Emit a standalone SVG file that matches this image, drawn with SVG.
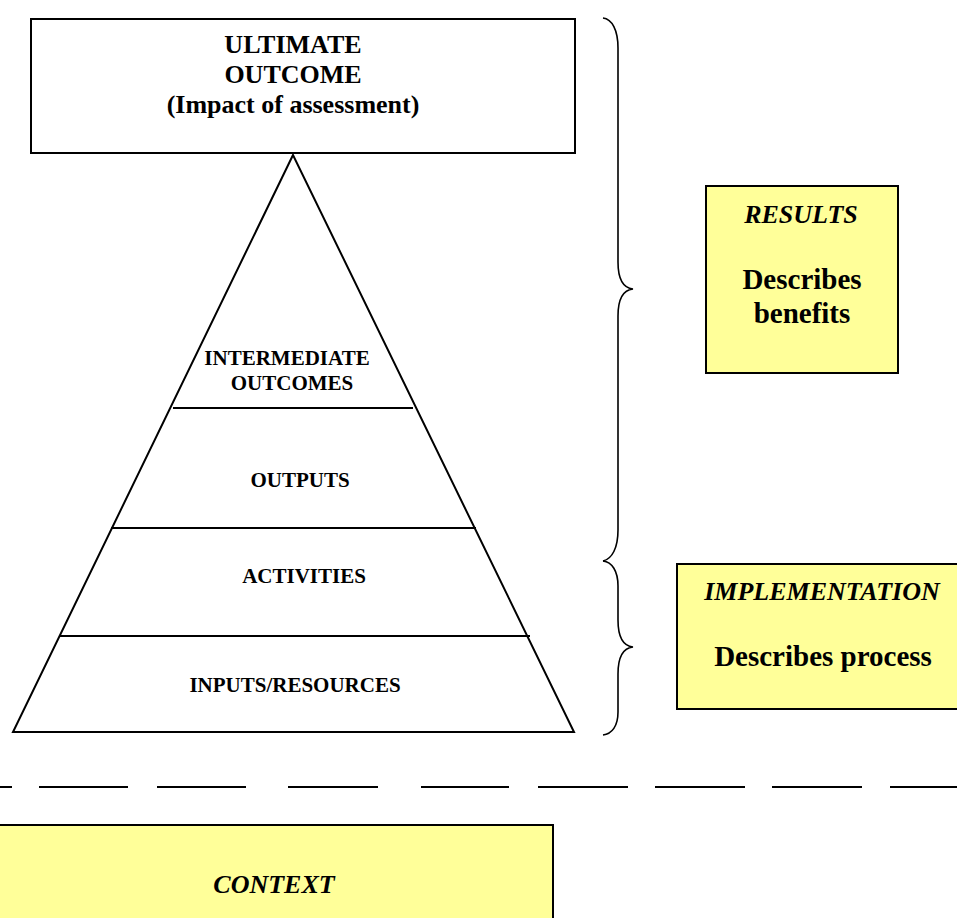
<svg xmlns="http://www.w3.org/2000/svg" width="957" height="918" viewBox="0 0 957 918">
  <style>
    .box { fill: #ffffff; stroke: #000000; stroke-width: 2; }
    .note { fill: #ffff99; stroke: #000000; stroke-width: 2; }
    .ln { stroke: #000000; stroke-width: 2; fill: none; }
    .brace { stroke: #000000; stroke-width: 1.6; fill: none; }
    .t { font-family: "Liberation Serif", "Times New Roman", serif; font-weight: bold; fill: #000000; text-anchor: middle; }
    .ti { font-family: "Liberation Serif", "Times New Roman", serif; font-weight: bold; font-style: italic; fill: #000000; text-anchor: middle; }
  </style>

  <g id="ultimate-outcome">
    <rect class="box" x="31" y="19" width="544" height="134"/>
    <text class="t" x="293" y="53" font-size="26">ULTIMATE</text>
    <text class="t" x="293" y="83" font-size="26">OUTCOME</text>
    <text class="t" x="293" y="113" font-size="26">(Impact of assessment)</text>
  </g>

  <g id="pyramid">
    <polygon class="ln" points="293,155 13,732 574,732"/>
  </g>

  <g id="intermediate-outcomes">
    <line class="ln" x1="173" y1="408" x2="413" y2="408"/>
    <text class="t" x="287" y="365" font-size="21">INTERMEDIATE</text>
    <text class="t" x="292" y="390" font-size="21">OUTCOMES</text>
  </g>

  <g id="outputs">
    <line class="ln" x1="111" y1="528" x2="476" y2="528"/>
    <text class="t" x="300" y="487" font-size="21">OUTPUTS</text>
  </g>

  <g id="activities">
    <line class="ln" x1="60" y1="636" x2="530" y2="636"/>
    <text class="t" x="304" y="583" font-size="21">ACTIVITIES</text>
  </g>

  <g id="inputs-resources">
    <text class="t" x="295" y="692" font-size="21">INPUTS/RESOURCES</text>
  </g>

  <g id="results">
    <rect class="note" x="706" y="186" width="192" height="187"/>
    <text class="ti" x="801" y="223" font-size="26">RESULTS</text>
    <text class="t" x="802" y="289" font-size="29">Describes</text>
    <text class="t" x="802" y="323" font-size="29">benefits</text>
  </g>

  <g id="implementation">
    <rect class="note" x="677" y="564" width="292" height="145"/>
    <text class="ti" x="822" y="600" font-size="26">IMPLEMENTATION</text>
    <text class="t" x="823" y="666" font-size="29">Describes process</text>
  </g>

  <g id="context">
    <rect class="note" x="-5" y="825" width="558" height="110"/>
    <text class="ti" x="274" y="893" font-size="26">CONTEXT</text>
  </g>

  <g id="connectors">
    <path class="brace" d="M603,18 C612,19 618,30 618,48 L618,262 C618,278 623,288 633,289 C623,290 618,300 618,316 L618,530 C618,548 612,559 603,561"/>
    <path class="brace" d="M603,561 C612,562 618,571 618,586 L618,620 C618,636 623,646 633,647 C623,648 618,658 618,674 L618,712 C618,726 612,734 603,735"/>
    <g class="ln">
      <line x1="0" y1="787" x2="12" y2="787"/>
      <line x1="39" y1="787" x2="128" y2="787"/>
      <line x1="157" y1="787" x2="246" y2="787"/>
      <line x1="288" y1="787" x2="378" y2="787"/>
      <line x1="421" y1="787" x2="509" y2="787"/>
      <line x1="538" y1="787" x2="628" y2="787"/>
      <line x1="655" y1="787" x2="745" y2="787"/>
      <line x1="772" y1="787" x2="862" y2="787"/>
      <line x1="890" y1="787" x2="957" y2="787"/>
    </g>
  </g>
</svg>
